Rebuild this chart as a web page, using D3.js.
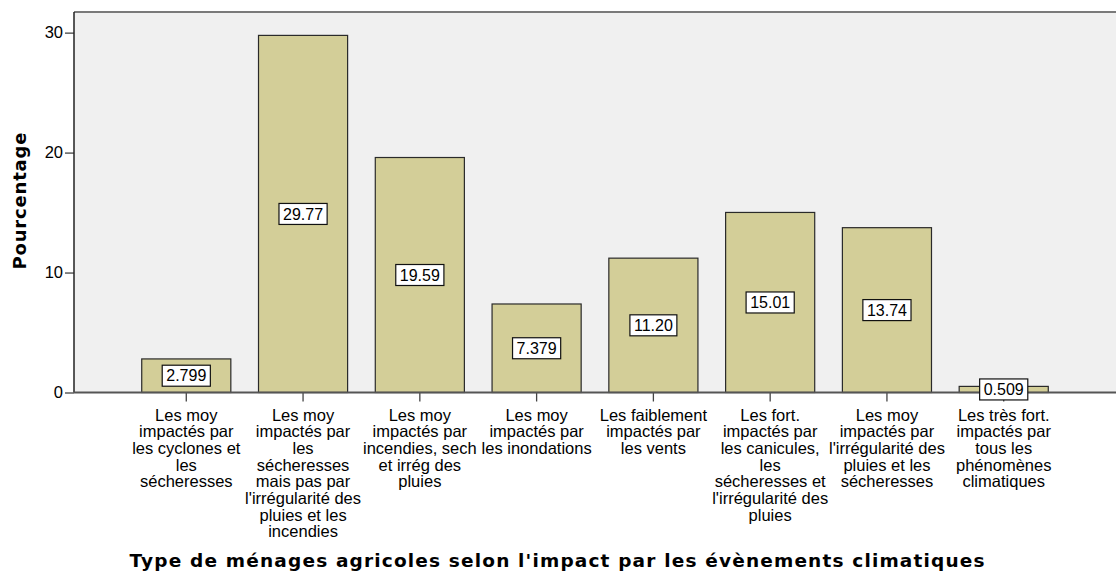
<!DOCTYPE html>
<html>
<head>
<meta charset="utf-8">
<script src="https://cdn.jsdelivr.net/npm/d3@7"></script>
<style>
  body { margin: 0; background: #ffffff; }
  text { font-family: "Liberation Sans", Arial, sans-serif; fill: #000; }
</style>
</head>
<body>
<div id="chart"></div>
<script>
"use strict";

const categories = [
  ["Les moy", "impactés par", "les cyclones et", "les", "sécheresses"],
  ["Les moy", "impactés par", "les", "sécheresses", "mais pas par", "l'irrégularité des", "pluies et les", "incendies"],
  ["Les moy", "impactés par", "incendies, sech", "et irrég des", "pluies"],
  ["Les moy", "impactés par", "les inondations"],
  ["Les faiblement", "impactés par", "les vents"],
  ["Les fort.", "impactés par", "les canicules,", "les", "sécheresses et", "l'irrégularité des", "pluies"],
  ["Les moy", "impactés par", "l'irrégularité des", "pluies et les", "sécheresses"],
  ["Les très fort.", "impactés par", "tous les", "phénomènes", "climatiques"]
];
const values = [2.799, 29.77, 19.59, 7.379, 11.20, 15.01, 13.74, 0.509];
const valueLabels = ["2.799", "29.77", "19.59", "7.379", "11.20", "15.01", "13.74", "0.509"];
const yTicks = [0, 10, 20, 30];

const size = {
  width: 1116,
  height: 576,
  left: 74,
  right: 1116,
  top: 12,
  bottom: 392.5
};

let svg = d3.select("#chart")
  .append("svg")
  .attr("width", size.width)
  .attr("height", size.height);

let xScale = d3.scaleBand()
  .domain(d3.range(categories.length))
  .range([size.left, size.right])
  .paddingInner(0.237)
  .paddingOuter(0.58);

let yScale = d3.scaleLinear()
  .domain([0, 31.72])
  .range([size.bottom, size.top]);

// plot background
svg.append("rect")
  .attr("x", size.left)
  .attr("y", size.top)
  .attr("width", size.right - size.left)
  .attr("height", size.bottom - size.top)
  .attr("fill", "#f0f0f0");

// top border
svg.append("line")
  .attr("x1", size.left).attr("x2", size.right)
  .attr("y1", size.top).attr("y2", size.top)
  .attr("stroke", "#7a7a7a")
  .attr("stroke-width", 2);

// bars
svg.selectAll(".bar")
  .data(values)
  .enter()
  .append("rect")
  .attr("class", "bar")
  .attr("x", (d, i) => xScale(i))
  .attr("y", d => yScale(d))
  .attr("width", xScale.bandwidth())
  .attr("height", d => size.bottom - yScale(d))
  .attr("fill", "#d3ce98")
  .attr("stroke", "#2a2a2a")
  .attr("stroke-width", 1.2);

// y axis
let yAxis = d3.axisLeft(yScale)
  .tickValues(yTicks)
  .tickSize(9)
  .tickPadding(2);
let gy = svg.append("g")
  .attr("transform", "translate(" + size.left + ",0)")
  .call(yAxis);
gy.select(".domain").remove();
gy.append("line")
  .attr("y1", size.top).attr("y2", size.bottom)
  .attr("stroke", "#222").attr("stroke-width", 1.5);
gy.selectAll(".tick line").attr("stroke", "#444").attr("stroke-width", 1.3);
gy.selectAll(".tick text")
  .style("font-family", "'Liberation Sans', Arial, sans-serif")
  .style("font-size", "16.5px")
  .attr("fill", "#222");

// x axis
let xAxis = d3.axisBottom(xScale)
  .tickSize(9)
  .tickFormat("");
let gx = svg.append("g")
  .attr("transform", "translate(0," + size.bottom + ")")
  .call(xAxis);
gx.select(".domain").remove();
gx.append("line")
  .attr("x1", size.left).attr("x2", size.right)
  .attr("stroke", "#555").attr("stroke-width", 2);
gx.selectAll(".tick line").attr("stroke", "#444").attr("stroke-width", 1.3);

// category labels
gx.selectAll(".tick")
  .append("text")
  .attr("text-anchor", "middle")
  .style("font-family", "'Liberation Sans', Arial, sans-serif")
  .style("font-size", "16.5px")
  .attr("fill", "#111")
  .each(function (d) {
    let t = d3.select(this);
    categories[d].forEach((line, k) => {
      t.append("tspan")
        .attr("x", 0)
        .attr("y", 28 + k * 16.7)
        .text(line);
    });
  });

// value labels in boxes
let labels = svg.selectAll(".vlabel")
  .data(values)
  .enter()
  .append("g")
  .attr("class", "vlabel")
  .attr("transform", (d, i) => "translate(" + (xScale(i) + xScale.bandwidth() / 2) + "," + ((yScale(d) + size.bottom) / 2) + ")");

labels.append("rect")
  .attr("fill", "#fff")
  .attr("stroke", "#111")
  .attr("stroke-width", 1.2);

labels.append("text")
  .attr("text-anchor", "middle")
  .attr("dy", "0.36em")
  .style("font-size", "16px")
  .attr("fill", "#111")
  .text((d, i) => valueLabels[i]);

labels.each(function () {
  let g = d3.select(this);
  let box = g.select("text").node().getBBox();
  g.select("rect")
    .attr("x", -box.width / 2 - 4)
    .attr("y", -10.5)
    .attr("width", box.width + 8)
    .attr("height", 21);
});

// axis titles
svg.append("text")
  .attr("x", 557)
  .attr("y", 567)
  .attr("text-anchor", "middle")
  .attr("textLength", 855)
  .attr("lengthAdjust", "spacing")
  .style("font-family", "'DejaVu Sans', Verdana, sans-serif")
  .style("font-weight", "bold")
  .style("font-size", "18.5px")
  .text("Type de ménages agricoles selon l'impact par les évènements climatiques");

svg.append("text")
  .attr("transform", "translate(26,201) rotate(-90)")
  .attr("text-anchor", "middle")
  .attr("textLength", 137)
  .attr("lengthAdjust", "spacing")
  .style("font-family", "'DejaVu Sans', Verdana, sans-serif")
  .style("font-weight", "bold")
  .style("font-size", "18px")
  .text("Pourcentage");
</script>
</body>
</html>
